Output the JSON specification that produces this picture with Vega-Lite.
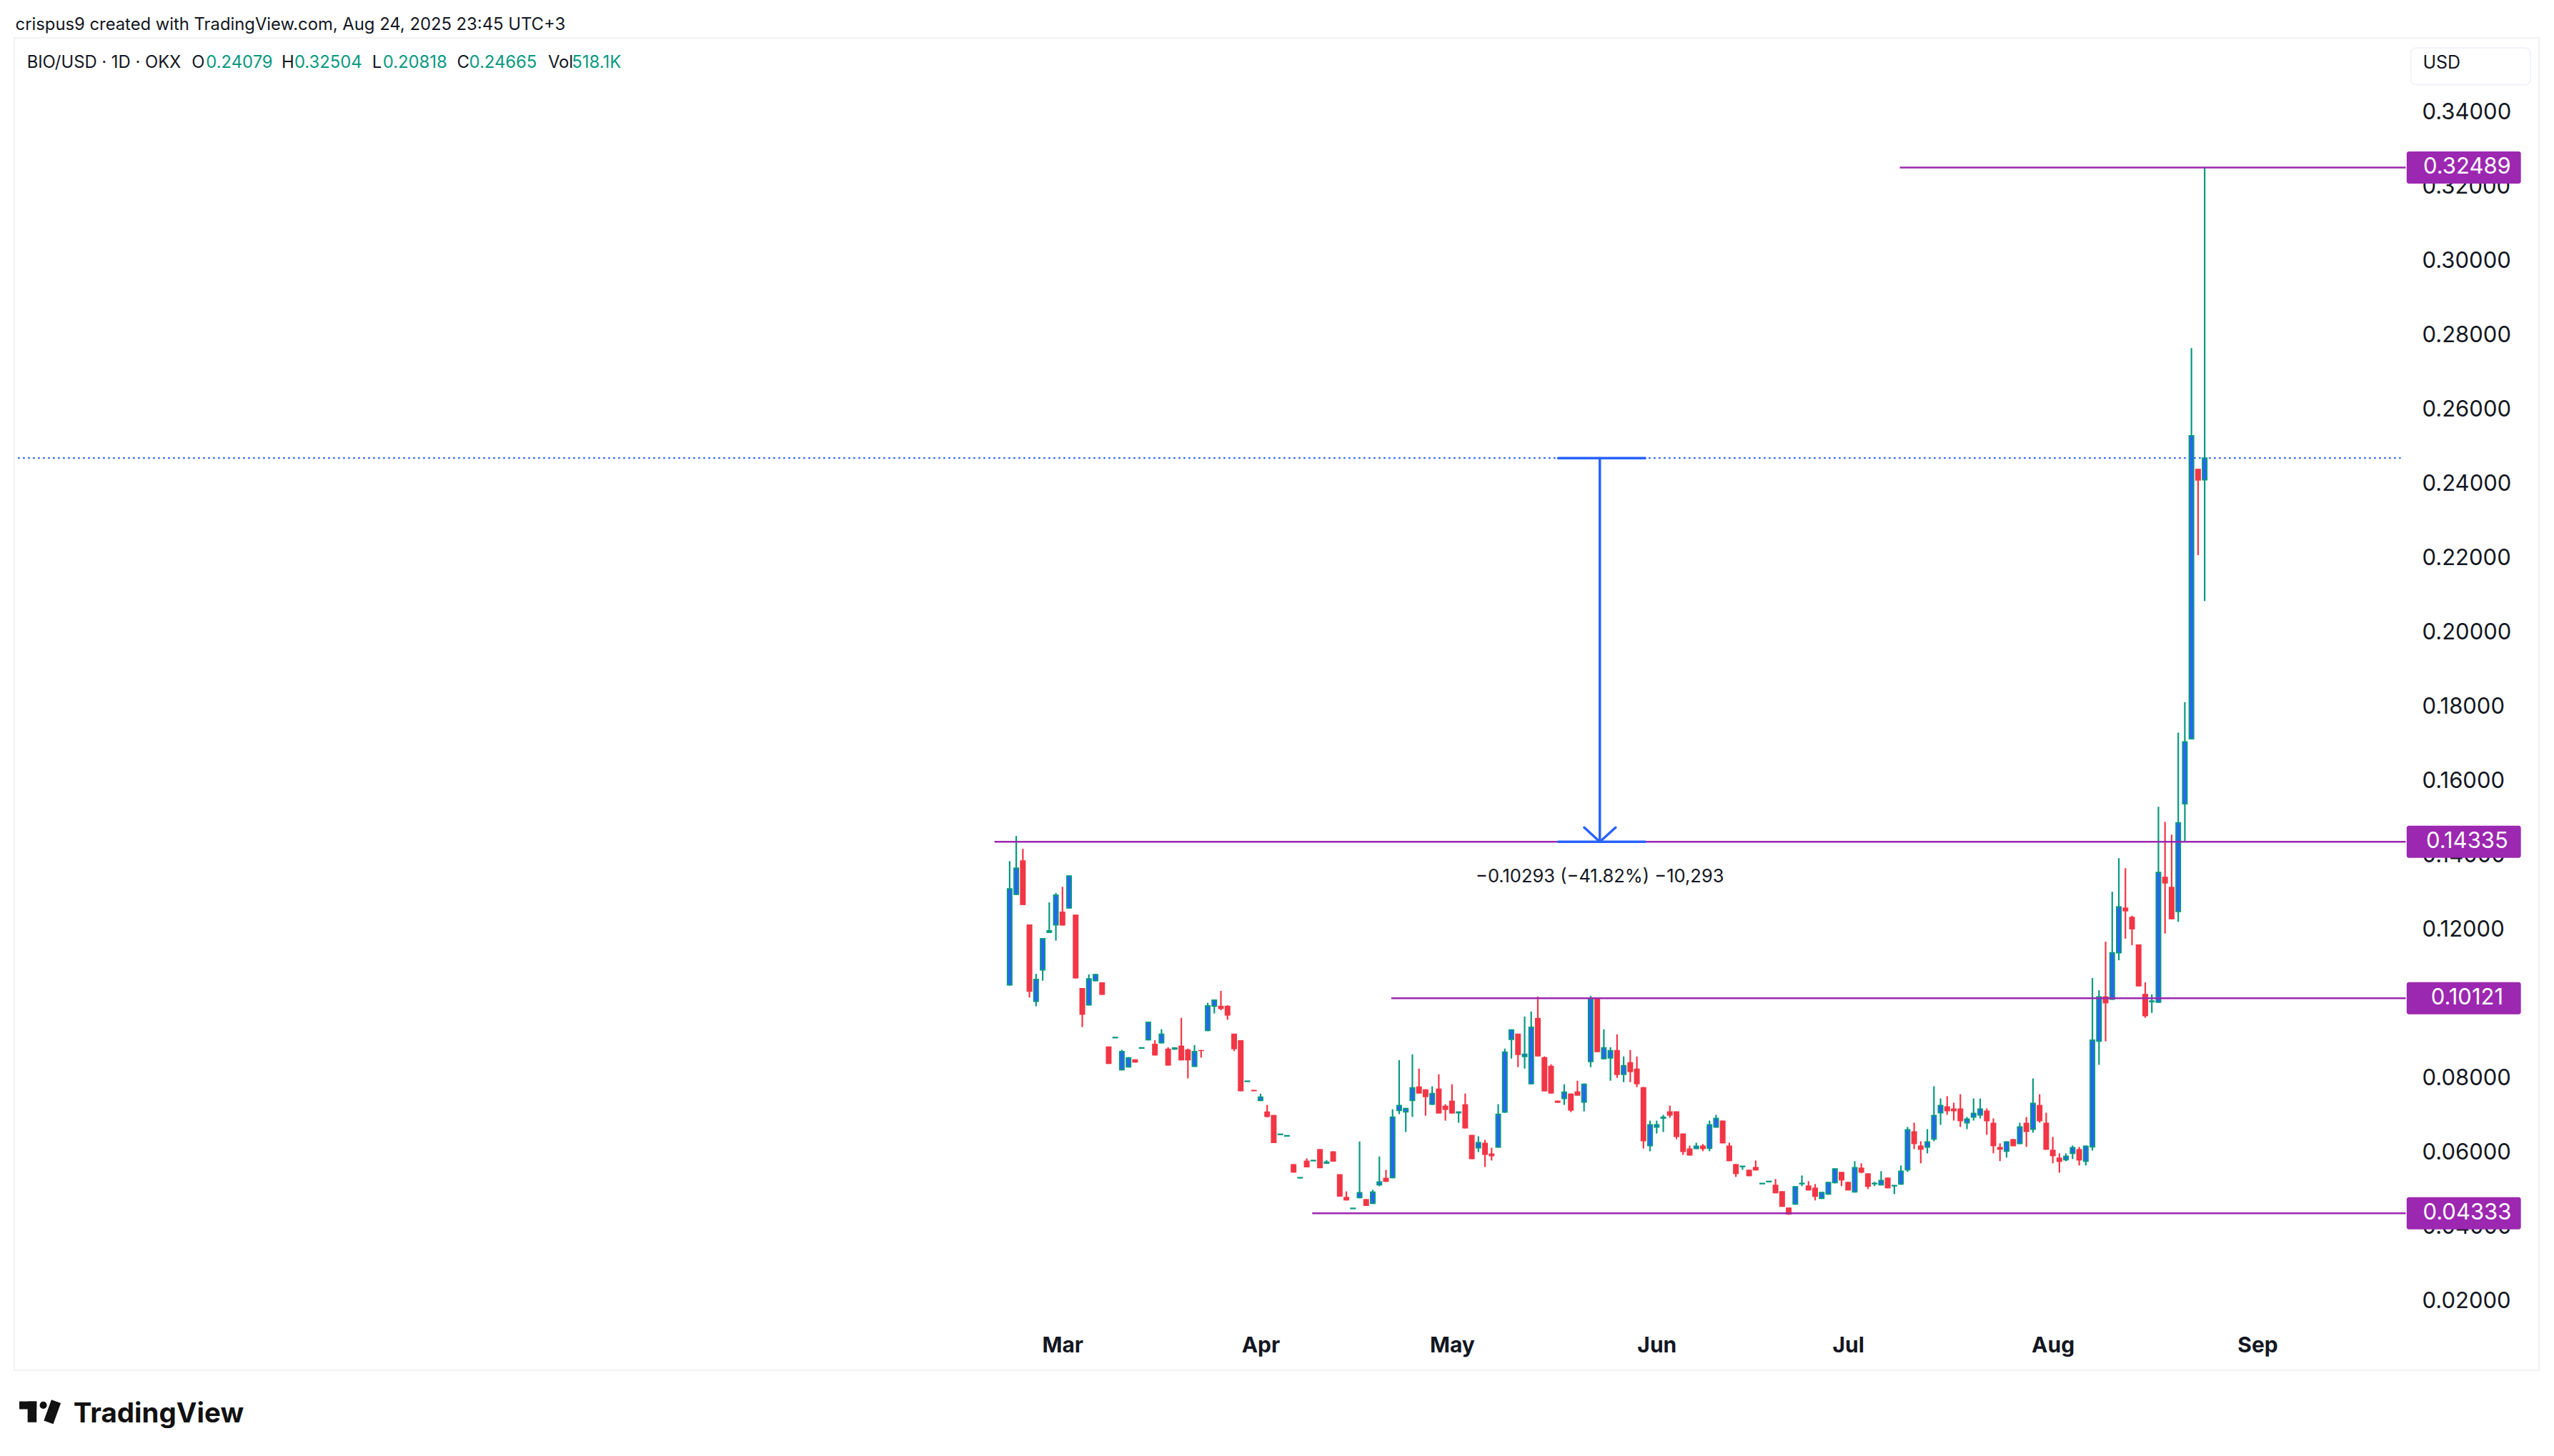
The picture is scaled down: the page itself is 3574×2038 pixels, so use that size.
{"$schema":"https://vega.github.io/schema/vega-lite/v6.json","width":3533,"height":1865,"autosize":{"type":"none"},"padding":{"left":20,"top":53,"right":21,"bottom":120},"background":"#ffffff","view":{"stroke":"#f1f2f4","strokeWidth":2,"fill":"#ffffff"},"config":{"font":"Inter"},
"datasets":{"candles":[
{"b":0,"o":0.10482,"h":0.13813,"l":0.10462,"c":0.13066},{"b":1,"o":0.12922,"h":0.1449,"l":0.12902,"c":0.13624},{"b":2,"o":0.13835,"h":0.14144,"l":0.1263,"c":0.1263},{"b":3,"o":0.12108,"h":0.12108,"l":0.10138,"c":0.10293},{"b":4,"o":0.10041,"h":0.10778,"l":0.09903,"c":0.10626},{"b":5,"o":0.10886,"h":0.11741,"l":0.10594,"c":0.11721},{"b":6,"o":0.119,"h":0.12703,"l":0.1188,"c":0.11934},{"b":7,"o":0.12099,"h":0.12953,"l":0.11674,"c":0.12897},{"b":8,"o":0.12454,"h":0.13122,"l":0.12079,"c":0.12079},{"b":9,"o":0.12554,"h":0.13431,"l":0.12534,"c":0.13411},
{"b":10,"o":0.12373,"h":0.12373,"l":0.10653,"c":0.10653},{"b":11,"o":0.10396,"h":0.10396,"l":0.09345,"c":0.09675},{"b":12,"o":0.09945,"h":0.10763,"l":0.09925,"c":0.1064},{"b":13,"o":0.10599,"h":0.10778,"l":0.10579,"c":0.10758},{"b":14,"o":0.1055,"h":0.1055,"l":0.10212,"c":0.10212},{"b":15,"o":0.08823,"h":0.08823,"l":0.08352,"c":0.08352},{"b":16,"o":0.0906,"h":0.09066,"l":0.0906,"c":0.09066},{"b":17,"o":0.08196,"h":0.08734,"l":0.08176,"c":0.08685},{"b":18,"o":0.08277,"h":0.08536,"l":0.08257,"c":0.08516},{"b":19,"o":0.08477,"h":0.08477,"l":0.08389,"c":0.08389},
{"b":20,"o":0.0878,"h":0.08786,"l":0.0878,"c":0.08786},{"b":21,"o":0.09004,"h":0.09492,"l":0.08984,"c":0.09472},{"b":22,"o":0.08896,"h":0.08992,"l":0.0858,"c":0.0858},{"b":23,"o":0.08924,"h":0.09286,"l":0.08904,"c":0.09148},{"b":24,"o":0.08764,"h":0.08801,"l":0.08308,"c":0.08308},{"b":25,"o":0.08755,"h":0.08801,"l":0.08735,"c":0.08781},{"b":26,"o":0.08845,"h":0.09594,"l":0.08448,"c":0.08448},{"b":27,"o":0.08742,"h":0.08764,"l":0.07963,"c":0.08448},{"b":28,"o":0.08291,"h":0.0886,"l":0.08271,"c":0.08685},{"b":29,"o":0.08727,"h":0.08727,"l":0.08521,"c":0.08698},
{"b":30,"o":0.09254,"h":0.09999,"l":0.09234,"c":0.09913},{"b":31,"o":0.09909,"h":0.10087,"l":0.09712,"c":0.10067},{"b":32,"o":0.09918,"h":0.10322,"l":0.098,"c":0.0983},{"b":33,"o":0.09918,"h":0.09933,"l":0.09543,"c":0.09653},{"b":34,"o":0.09168,"h":0.09168,"l":0.08698,"c":0.08749},{"b":35,"o":0.08992,"h":0.08992,"l":0.07617,"c":0.07617},{"b":36,"o":0.07882,"h":0.07888,"l":0.07882,"c":0.07888},{"b":37,"o":0.07654,"h":0.07654,"l":0.07617,"c":0.07617},{"b":38,"o":0.07373,"h":0.07551,"l":0.07353,"c":0.07458},{"b":39,"o":0.07073,"h":0.0725,"l":0.06912,"c":0.06926},
{"b":40,"o":0.06978,"h":0.06978,"l":0.06221,"c":0.06221},{"b":41,"o":0.06453,"h":0.06459,"l":0.06453,"c":0.06459},{"b":42,"o":0.06414,"h":0.0642,"l":0.06414,"c":0.0642},{"b":43,"o":0.05655,"h":0.05655,"l":0.05427,"c":0.05427},{"b":44,"o":0.05285,"h":0.05291,"l":0.05285,"c":0.05291},{"b":45,"o":0.0575,"h":0.05809,"l":0.05567,"c":0.05567},{"b":46,"o":0.05747,"h":0.05753,"l":0.05747,"c":0.05753},{"b":47,"o":0.06059,"h":0.06059,"l":0.05545,"c":0.05545},{"b":48,"o":0.05682,"h":0.05765,"l":0.05662,"c":0.05708},{"b":49,"o":0.06,"h":0.06,"l":0.05721,"c":0.05721},
{"b":50,"o":0.05383,"h":0.05383,"l":0.0478,"c":0.0478},{"b":51,"o":0.04773,"h":0.0492,"l":0.04677,"c":0.04677},{"b":52,"o":0.04459,"h":0.04465,"l":0.04459,"c":0.04465},{"b":53,"o":0.04756,"h":0.06265,"l":0.04736,"c":0.04885},{"b":54,"o":0.04714,"h":0.04714,"l":0.0453,"c":0.0453},{"b":55,"o":0.04602,"h":0.04964,"l":0.04582,"c":0.049},{"b":56,"o":0.05102,"h":0.05861,"l":0.0506,"c":0.05172},{"b":57,"o":0.05288,"h":0.055,"l":0.05177,"c":0.05177},{"b":58,"o":0.05293,"h":0.07132,"l":0.05273,"c":0.06921},{"b":59,"o":0.07101,"h":0.08455,"l":0.07,"c":0.0723},
{"b":60,"o":0.07064,"h":0.07169,"l":0.06522,"c":0.07149},{"b":61,"o":0.07373,"h":0.08609,"l":0.06926,"c":0.07708},{"b":62,"o":0.07747,"h":0.08227,"l":0.07555,"c":0.07555},{"b":63,"o":0.0767,"h":0.0767,"l":0.06959,"c":0.07459},{"b":64,"o":0.07269,"h":0.07747,"l":0.07249,"c":0.07555},{"b":65,"o":0.0769,"h":0.08074,"l":0.07018,"c":0.07018},{"b":66,"o":0.07229,"h":0.07268,"l":0.06826,"c":0.07114},{"b":67,"o":0.07364,"h":0.07805,"l":0.07018,"c":0.07018},{"b":68,"o":0.0704,"h":0.07056,"l":0.06768,"c":0.07056},{"b":69,"o":0.07268,"h":0.07556,"l":0.06615,"c":0.06615},
{"b":70,"o":0.06442,"h":0.06442,"l":0.05789,"c":0.05789},{"b":71,"o":0.06097,"h":0.06404,"l":0.05981,"c":0.0623},{"b":72,"o":0.06231,"h":0.06308,"l":0.05578,"c":0.05904},{"b":73,"o":0.05943,"h":0.06096,"l":0.05751,"c":0.05866},{"b":74,"o":0.06116,"h":0.07268,"l":0.06096,"c":0.06998},{"b":75,"o":0.07057,"h":0.08765,"l":0.07037,"c":0.08668},{"b":76,"o":0.09016,"h":0.09284,"l":0.08496,"c":0.09264},{"b":77,"o":0.09168,"h":0.09168,"l":0.08266,"c":0.08592},{"b":78,"o":0.08555,"h":0.09629,"l":0.08228,"c":0.08611},{"b":79,"o":0.07825,"h":0.09764,"l":0.07805,"c":0.0934},
{"b":80,"o":0.09591,"h":0.10167,"l":0.08554,"c":0.08554},{"b":81,"o":0.08535,"h":0.08554,"l":0.07613,"c":0.07613},{"b":82,"o":0.08304,"h":0.08343,"l":0.07555,"c":0.07555},{"b":83,"o":0.07364,"h":0.07364,"l":0.07306,"c":0.07306},{"b":84,"o":0.07422,"h":0.07805,"l":0.07248,"c":0.07593},{"b":85,"o":0.07555,"h":0.07555,"l":0.07056,"c":0.07095},{"b":86,"o":0.07613,"h":0.07901,"l":0.07498,"c":0.07498},{"b":87,"o":0.07326,"h":0.07824,"l":0.07076,"c":0.07804},{"b":88,"o":0.0842,"h":0.10186,"l":0.08266,"c":0.10108},{"b":89,"o":0.10116,"h":0.10116,"l":0.08669,"c":0.08669},
{"b":90,"o":0.08497,"h":0.09284,"l":0.08477,"c":0.08784},{"b":91,"o":0.08516,"h":0.08804,"l":0.07901,"c":0.08707},{"b":92,"o":0.08727,"h":0.09149,"l":0.07978,"c":0.08055},{"b":93,"o":0.08075,"h":0.08554,"l":0.07863,"c":0.08304},{"b":94,"o":0.084,"h":0.08727,"l":0.07863,"c":0.08132},{"b":95,"o":0.08228,"h":0.08554,"l":0.07728,"c":0.07805},{"b":96,"o":0.07728,"h":0.07728,"l":0.06077,"c":0.06269},{"b":97,"o":0.06155,"h":0.06826,"l":0.06,"c":0.0671},{"b":98,"o":0.06654,"h":0.06826,"l":0.0648,"c":0.0671},{"b":99,"o":0.06895,"h":0.0698,"l":0.06519,"c":0.06915},
{"b":100,"o":0.07076,"h":0.07229,"l":0.06903,"c":0.0696},{"b":101,"o":0.07076,"h":0.07076,"l":0.06327,"c":0.06384},{"b":102,"o":0.0648,"h":0.0648,"l":0.05904,"c":0.05981},{"b":103,"o":0.06077,"h":0.06154,"l":0.05885,"c":0.05885},{"b":104,"o":0.06078,"h":0.06231,"l":0.06058,"c":0.06134},{"b":105,"o":0.06156,"h":0.06194,"l":0.06002,"c":0.0606},{"b":106,"o":0.0608,"h":0.06828,"l":0.06002,"c":0.06712},{"b":107,"o":0.06656,"h":0.06982,"l":0.06636,"c":0.06885},{"b":108,"o":0.06828,"h":0.06828,"l":0.06214,"c":0.06214},{"b":109,"o":0.06156,"h":0.06233,"l":0.05734,"c":0.05734},
{"b":110,"o":0.05657,"h":0.05657,"l":0.05311,"c":0.05388},{"b":111,"o":0.0559,"h":0.05596,"l":0.05503,"c":0.05596},{"b":112,"o":0.05503,"h":0.05503,"l":0.0533,"c":0.0533},{"b":113,"o":0.0558,"h":0.05753,"l":0.05484,"c":0.05484},{"b":114,"o":0.05129,"h":0.05135,"l":0.05129,"c":0.05135},{"b":115,"o":0.05184,"h":0.0519,"l":0.05184,"c":0.0519},{"b":116,"o":0.051,"h":0.05254,"l":0.0487,"c":0.0487},{"b":117,"o":0.04927,"h":0.04927,"l":0.04505,"c":0.04505},{"b":118,"o":0.04486,"h":0.04486,"l":0.04294,"c":0.04294},{"b":119,"o":0.04582,"h":0.05062,"l":0.04562,"c":0.05042},
{"b":120,"o":0.05129,"h":0.0535,"l":0.05062,"c":0.05135},{"b":121,"o":0.05081,"h":0.05196,"l":0.04946,"c":0.04946},{"b":122,"o":0.05023,"h":0.05119,"l":0.04678,"c":0.04774},{"b":123,"o":0.04736,"h":0.04908,"l":0.04716,"c":0.04888},{"b":124,"o":0.04851,"h":0.05177,"l":0.04831,"c":0.05157},{"b":125,"o":0.05158,"h":0.05542,"l":0.05138,"c":0.05522},{"b":126,"o":0.05446,"h":0.05446,"l":0.05062,"c":0.05215},{"b":127,"o":0.05177,"h":0.05177,"l":0.04946,"c":0.04946},{"b":128,"o":0.04909,"h":0.05734,"l":0.04889,"c":0.0556},{"b":129,"o":0.05561,"h":0.05676,"l":0.05407,"c":0.05426},
{"b":130,"o":0.05407,"h":0.05407,"l":0.04985,"c":0.05042},{"b":131,"o":0.05129,"h":0.05177,"l":0.05062,"c":0.05135},{"b":132,"o":0.05101,"h":0.05465,"l":0.05081,"c":0.05214},{"b":133,"o":0.05292,"h":0.05292,"l":0.05004,"c":0.05004},{"b":134,"o":0.05072,"h":0.05078,"l":0.0485,"c":0.05078},{"b":135,"o":0.0512,"h":0.05618,"l":0.051,"c":0.05464},{"b":136,"o":0.05504,"h":0.06655,"l":0.05446,"c":0.06578},{"b":137,"o":0.0654,"h":0.0677,"l":0.0606,"c":0.06194},{"b":138,"o":0.06156,"h":0.06271,"l":0.05676,"c":0.06041},{"b":139,"o":0.06118,"h":0.06598,"l":0.05945,"c":0.06251},
{"b":140,"o":0.0633,"h":0.0775,"l":0.06271,"c":0.06962},{"b":141,"o":0.0704,"h":0.07423,"l":0.06713,"c":0.0723},{"b":142,"o":0.07212,"h":0.07481,"l":0.06982,"c":0.07078},{"b":143,"o":0.07154,"h":0.07308,"l":0.06828,"c":0.07078},{"b":144,"o":0.07154,"h":0.07538,"l":0.06655,"c":0.06809},{"b":145,"o":0.06771,"h":0.06924,"l":0.06598,"c":0.06866},{"b":146,"o":0.06925,"h":0.07423,"l":0.06828,"c":0.07019},{"b":147,"o":0.06982,"h":0.07423,"l":0.06886,"c":0.07134},{"b":148,"o":0.07097,"h":0.07154,"l":0.06444,"c":0.06809},{"b":149,"o":0.0677,"h":0.06886,"l":0.05945,"c":0.06137},
{"b":150,"o":0.06118,"h":0.06214,"l":0.05734,"c":0.06041},{"b":151,"o":0.06003,"h":0.06271,"l":0.0583,"c":0.06251},{"b":152,"o":0.06329,"h":0.06329,"l":0.06137,"c":0.06137},{"b":153,"o":0.06214,"h":0.0677,"l":0.06194,"c":0.06654},{"b":154,"o":0.0677,"h":0.06924,"l":0.06118,"c":0.06521},{"b":155,"o":0.06598,"h":0.07961,"l":0.06502,"c":0.07288},{"b":156,"o":0.0725,"h":0.07538,"l":0.0677,"c":0.06809},{"b":157,"o":0.0677,"h":0.07039,"l":0.06041,"c":0.06041},{"b":158,"o":0.06041,"h":0.06386,"l":0.05676,"c":0.05868},{"b":159,"o":0.0583,"h":0.05945,"l":0.05426,"c":0.05714},
{"b":160,"o":0.05773,"h":0.05945,"l":0.05734,"c":0.05867},{"b":161,"o":0.05946,"h":0.06156,"l":0.05791,"c":0.06098},{"b":162,"o":0.0606,"h":0.06118,"l":0.05618,"c":0.05753},{"b":163,"o":0.05734,"h":0.06156,"l":0.05618,"c":0.06136},{"b":164,"o":0.06122,"h":0.10666,"l":0.06021,"c":0.08993},{"b":165,"o":0.08967,"h":0.10336,"l":0.08329,"c":0.10154},{"b":166,"o":0.10174,"h":0.11644,"l":0.08961,"c":0.09983},{"b":167,"o":0.10098,"h":0.12989,"l":0.10078,"c":0.11345},{"b":168,"o":0.11348,"h":0.13893,"l":0.11144,"c":0.12579},{"b":169,"o":0.12563,"h":0.13621,"l":0.11725,"c":0.1246},
{"b":170,"o":0.12313,"h":0.12342,"l":0.11549,"c":0.11975},{"b":171,"o":0.11571,"h":0.11571,"l":0.10439,"c":0.10439},{"b":172,"o":0.1024,"h":0.10549,"l":0.09593,"c":0.09637},{"b":173,"o":0.1003,"h":0.10225,"l":0.09726,"c":0.10045},{"b":174,"o":0.10017,"h":0.15275,"l":0.09997,"c":0.13506},{"b":175,"o":0.13393,"h":0.14871,"l":0.11865,"c":0.1321},{"b":176,"o":0.13121,"h":0.14525,"l":0.12247,"c":0.12247},{"b":177,"o":0.12458,"h":0.17272,"l":0.1218,"c":0.14843},{"b":178,"o":0.15357,"h":0.18093,"l":0.14332,"c":0.1702},{"b":179,"o":0.17109,"h":0.27623,"l":0.17089,"c":0.25264},
{"b":180,"o":0.24377,"h":0.24377,"l":0.2205,"c":0.24058},{"b":181,"o":0.24079,"h":0.32504,"l":0.20818,"c":0.24665}],
"levels":[{"level":0.32489,"start":134.83,"end":211.46,"boxL":211.6,"boxR":228.9,"mid":220.75},{"level":0.14335,"start":-2.3,"end":211.46,"boxL":211.6,"boxR":228.9,"mid":220.75},{"level":0.10121,"start":57.8,"end":211.46,"boxL":211.6,"boxR":228.9,"mid":220.75},{"level":0.04333,"start":45.83,"end":211.46,"boxL":211.6,"boxR":228.9,"mid":220.75}],
"measure":[{"x1":83.1,"x2":96.25,"y1":0.24665,"y2":0.24665},{"x1":83.1,"x2":96.25,"y1":0.14335,"y2":0.14335},{"x1":89.39,"x2":89.39,"y1":0.24665,"y2":0.14335},{"x1":87.03,"x2":89.39,"y1":0.14719,"y2":0.14335},{"x1":91.78,"x2":89.39,"y1":0.14719,"y2":0.14335}],
"header":[{"t":"crispus9 created with TradingView.com, Aug 24, 2025 23:45 UTC+3","b":-150.59,"p":0.36321,"k":"dark"},{"t":"BIO/USD · 1D · OKX","b":-148.85,"p":0.35308,"k":"dark"},{"t":"O","b":-123.88,"p":0.35308,"k":"dark"},{"t":"0.24079","b":-121.72,"p":0.35308,"k":"up"},{"t":"H","b":-110.29,"p":0.35308,"k":"dark"},{"t":"0.32504","b":-108.34,"p":0.35308,"k":"up"},{"t":"L","b":-96.56,"p":0.35308,"k":"dark"},{"t":"0.20818","b":-94.94,"p":0.35308,"k":"up"},{"t":"C","b":-83.7,"p":0.35308,"k":"dark"},{"t":"0.24665","b":-81.86,"p":0.35308,"k":"up"},{"t":"Vol","b":-69.92,"p":0.35308,"k":"dark"},{"t":"518.1K","b":-66.3,"p":0.35308,"k":"up"}]
},
"encoding":{"x":{"field":"b","type":"quantitative","scale":{"domain":[-150.22,231.1],"nice":false,"zero":false},"axis":{"title":null,"orient":"bottom","offset":-26,"values":[8,38,67,98,127,158,189],"labelExpr":"{'8':'Mar','38':'Apr','67':'May','98':'Jun','127':'Jul','158':'Aug','189':'Sep'}[datum.value]","labelFontSize":30,"labelFontWeight":700,"labelFont":"Inter","labelColor":"#131722","labelBaseline":"alphabetic","labelPadding":0,"ticks":false,"domain":false,"grid":false,"labelOverlap":false,"labelFlush":false}},"y":{"field":"p","type":"quantitative","scale":{"domain":[0.00201,0.35882],"nice":false,"zero":false},"axis":{"title":null,"orient":"right","offset":-185,"values":[0.02,0.04,0.06,0.08,0.1,0.12,0.14,0.16,0.18,0.2,0.22,0.24,0.26,0.28,0.3,0.32,0.34],"format":".5f","labelFontSize":31,"labelFont":"Inter","labelColor":"#131722","labelAlign":"left","labelPadding":21,"labelOffset":2,"ticks":false,"domain":false,"grid":false,"labelOverlap":false,"labelFlush":false}}},
"layer":[
{"data":{"values":[{"v":0.24665,"x1":-150.2,"x2":210.7}]},"mark":{"type":"rule","color":"#2962ff","strokeWidth":2.4,"strokeDash":[2.5,4.5]},"encoding":{"x":{"field":"x1","type":"quantitative"},"x2":{"field":"x2"},"y":{"field":"v","type":"quantitative"}}},
{"data":{"name":"candles"},"mark":{"type":"rule","strokeWidth":2.2},"encoding":{"y":{"field":"l","type":"quantitative"},"y2":{"field":"h"},"stroke":{"condition":{"test":"datum.c>=datum.o","value":"#089981"},"value":"#f23645"}}},
{"data":{"name":"candles"},"transform":[{"filter":"datum.c>=datum.o"}],"mark":{"type":"bar","size":6,"stroke":"#089981","strokeWidth":2,"fill":"#2962ff"},"encoding":{"y":{"field":"o","type":"quantitative"},"y2":{"field":"c"}}},
{"data":{"name":"candles"},"transform":[{"filter":"datum.c<datum.o"}],"mark":{"type":"bar","size":8,"fill":"#f23645"},"encoding":{"y":{"field":"o","type":"quantitative"},"y2":{"field":"c"}}},
{"data":{"name":"levels"},"mark":{"type":"rule","color":"#9c27b0","strokeWidth":2.5},"encoding":{"x":{"field":"start","type":"quantitative"},"x2":{"field":"end"},"y":{"field":"level","type":"quantitative"}}},
{"data":{"name":"measure"},"mark":{"type":"rule","color":"#2962ff","strokeWidth":3.5,"strokeCap":"round"},"encoding":{"x":{"field":"x1","type":"quantitative"},"x2":{"field":"x2"},"y":{"field":"y1","type":"quantitative"},"y2":{"field":"y2"}}},
{"data":{"values":[{"t":"−0.10293 (−41.82%) −10,293","b":89.39,"p":0.13392}]},"mark":{"type":"text","fontSize":25.5,"font":"Inter","color":"#131722","align":"center","baseline":"middle"},"encoding":{"text":{"field":"t"}}},
{"data":{"name":"levels"},"mark":{"type":"bar","orient":"horizontal","size":45,"color":"#9c27b0","cornerRadius":3},"encoding":{"x":{"field":"boxL","type":"quantitative"},"x2":{"field":"boxR"},"y":{"field":"level","type":"quantitative"}}},
{"data":{"name":"levels"},"mark":{"type":"text","fontSize":31,"font":"Inter","color":"#ffffff","align":"center","baseline":"middle"},"encoding":{"x":{"field":"mid","type":"quantitative"},"y":{"field":"level","type":"quantitative"},"text":{"field":"level","format":".5f"}}},
{"data":{"values":[{"x1":212.22,"x2":230.36,"y1":0.34712,"y2":0.35708}]},"mark":{"type":"rect","fill":"#ffffff","stroke":"#f0f3fa","strokeWidth":2,"cornerRadius":8},"encoding":{"x":{"field":"x1","type":"quantitative"},"x2":{"field":"x2"},"y":{"field":"y1","type":"quantitative"},"y2":{"field":"y2"}}},
{"data":{"values":[{"t":"USD","b":214.05,"p":0.35296}]},"mark":{"type":"text","fontSize":25,"font":"Inter","color":"#131722","align":"left","baseline":"middle"},"encoding":{"text":{"field":"t"}}},
{"data":{"name":"header"},"mark":{"type":"text","fontSize":23.8,"font":"Inter","align":"left","baseline":"middle"},"encoding":{"text":{"field":"t"},"color":{"field":"k","type":"nominal","scale":{"domain":["dark","up"],"range":["#131722","#089981"]},"legend":null}}},
{"data":{"values":[{"x1":-150.0,"x2":-147.38,"y1":-0.00733,"y2":-0.00943},{"x1":-148.74,"x2":-147.38,"y1":-0.00733,"y2":-0.01295}]},"mark":{"type":"rect","color":"#111111"},"encoding":{"x":{"field":"x1","type":"quantitative"},"x2":{"field":"x2"},"y":{"field":"y1","type":"quantitative"},"y2":{"field":"y2"}}},
{"data":{"values":[{"b":-146.37,"p":-0.00836}]},"mark":{"type":"point","filled":true,"size":102,"color":"#111111","opacity":1}},
{"data":{"values":[{"x1":-144.43,"x2":-145.57,"y1":-0.00733,"y2":-0.01295}]},"mark":{"type":"rule","color":"#111111","strokeWidth":14},"encoding":{"x":{"field":"x1","type":"quantitative"},"x2":{"field":"x2"},"y":{"field":"y1","type":"quantitative"},"y2":{"field":"y2"}}},
{"data":{"values":[{"t":"TradingView","b":-141.8,"p":-0.01301}]},"mark":{"type":"text","fontSize":38.5,"font":"Inter","fontWeight":700,"color":"#111111","align":"left","baseline":"alphabetic"},"encoding":{"text":{"field":"t"}}}
]}
